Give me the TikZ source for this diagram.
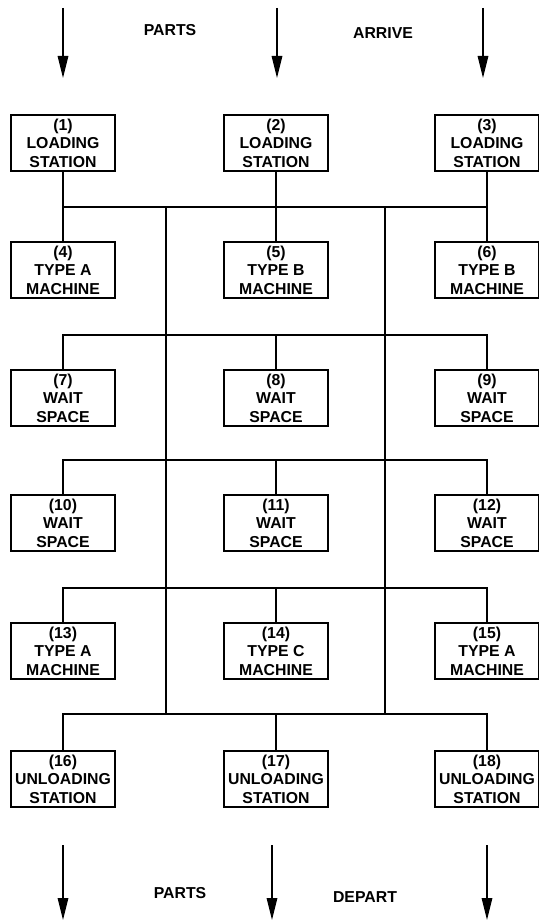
\documentclass[tikz,border=0pt]{standalone}
\usepackage{fontspec}
\setmainfont{Liberation Sans}
\usetikzlibrary{arrows.meta}

\begin{document}
\begin{tikzpicture}[>={Triangle[length=4.4mm,width=2.1mm]},
  stn/.style={draw=black,line width=0.7pt,minimum width=2.08cm,minimum height=1.12cm,align=center,font=\fontsize{9}{10.5}\selectfont\bfseries,inner sep=1pt},
  bus/.style={line width=0.7pt},
  flow/.style={->,line width=0.8pt},
  lbl/.style={font=\fontsize{9}{10.5}\selectfont\bfseries}]
\useasboundingbox (0,0) rectangle (10.78,-18.48);
% stations, row by row
\node[stn] (s1) at (1.26,-2.86) {(1)\\LOADING\\STATION};
\node[stn] (s2) at (5.52,-2.86) {(2)\\LOADING\\STATION};
\node[stn] (s3) at (9.74,-2.86) {(3)\\LOADING\\STATION};
\node[stn] (s4) at (1.26,-5.40) {(4)\\TYPE A\\MACHINE};
\node[stn] (s5) at (5.52,-5.40) {(5)\\TYPE B\\MACHINE};
\node[stn] (s6) at (9.74,-5.40) {(6)\\TYPE B\\MACHINE};
\node[stn] (s7) at (1.26,-7.96) {(7)\\WAIT\\SPACE};
\node[stn] (s8) at (5.52,-7.96) {(8)\\WAIT\\SPACE};
\node[stn] (s9) at (9.74,-7.96) {(9)\\WAIT\\SPACE};
\node[stn] (s10) at (1.26,-10.46) {(10)\\WAIT\\SPACE};
\node[stn] (s11) at (5.52,-10.46) {(11)\\WAIT\\SPACE};
\node[stn] (s12) at (9.74,-10.46) {(12)\\WAIT\\SPACE};
\node[stn] (s13) at (1.26,-13.02) {(13)\\TYPE A\\MACHINE};
\node[stn] (s14) at (5.52,-13.02) {(14)\\TYPE C\\MACHINE};
\node[stn] (s15) at (9.74,-13.02) {(15)\\TYPE A\\MACHINE};
\node[stn] (s16) at (1.26,-15.58) {(16)\\UNLOADING\\STATION};
\node[stn] (s17) at (5.52,-15.58) {(17)\\UNLOADING\\STATION};
\node[stn] (s18) at (9.74,-15.58) {(18)\\UNLOADING\\STATION};
% labels
\node[lbl] (arrive1) at (3.40,-0.60) {PARTS};
\node[lbl] (arrive2) at (7.66,-0.66) {ARRIVE};
\node[lbl] (depart1) at (3.60,-17.86) {PARTS};
\node[lbl] (depart2) at (7.30,-17.94) {DEPART};
% bus levels
\coordinate (b1) at (5.52,-4.14);
\coordinate (b2) at (5.52,-6.70);
\coordinate (b3) at (5.52,-9.20);
\coordinate (b4) at (5.52,-11.76);
\coordinate (b5) at (5.52,-14.28);
\coordinate (v1t) at (3.32,-4.14);
\coordinate (v1b) at (3.32,-14.28);
\coordinate (v2t) at (7.70,-4.14);
\coordinate (v2b) at (7.70,-14.28);
% arrival and departure points
\coordinate (in1) at (1.26,-0.16);
\coordinate (in1e) at (1.26,-1.56);
\coordinate (in2) at (5.54,-0.16);
\coordinate (in2e) at (5.54,-1.56);
\coordinate (in3) at (9.66,-0.16);
\coordinate (in3e) at (9.66,-1.56);
\coordinate (out1) at (1.26,-16.90);
\coordinate (out1e) at (1.26,-18.40);
\coordinate (out2) at (5.44,-16.90);
\coordinate (out2e) at (5.44,-18.40);
\coordinate (out3) at (9.74,-16.90);
\coordinate (out3e) at (9.74,-18.40);
% connections
\draw[bus] (s1) -- (s4);
\draw[bus] (s2) -- (s5);
\draw[bus] (s3) -- (s6);
\draw[bus] (s1 |- b1) -- (s3 |- b1);
\draw[bus] (s7.north) |- (b2) -| (s9.north);
\draw[bus] (s8.north) -- (b2);
\draw[bus] (s10.north) |- (b3) -| (s12.north);
\draw[bus] (s11.north) -- (b3);
\draw[bus] (s13.north) |- (b4) -| (s15.north);
\draw[bus] (s14.north) -- (b4);
\draw[bus] (s16.north) |- (b5) -| (s18.north);
\draw[bus] (s17.north) -- (b5);
\draw[bus] (v1t) -- (v1b);
\draw[bus] (v2t) -- (v2b);
\draw[flow] (in1) -- (in1e);
\draw[flow] (in2) -- (in2e);
\draw[flow] (in3) -- (in3e);
\draw[flow] (out1) -- (out1e);
\draw[flow] (out2) -- (out2e);
\draw[flow] (out3) -- (out3e);
\end{tikzpicture}
\end{document}
